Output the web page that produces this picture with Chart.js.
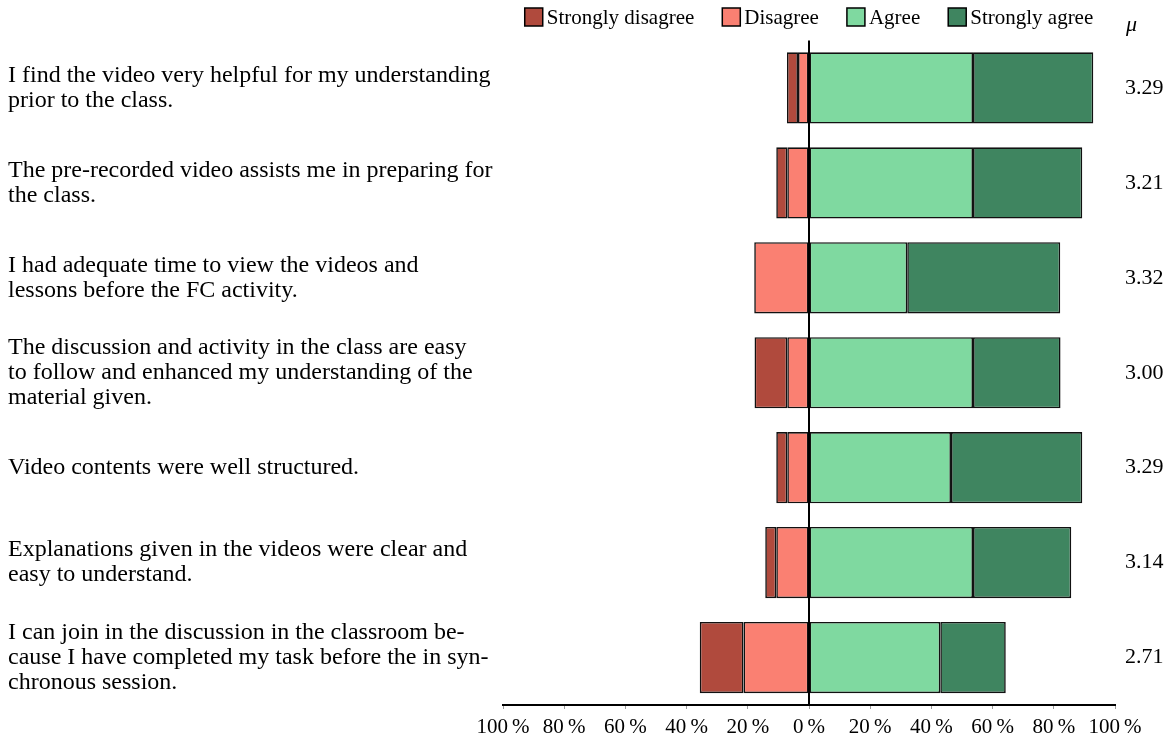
<!DOCTYPE html>
<html>
<head>
<meta charset="utf-8">
<title>Flipped classroom survey</title>
<script src="https://cdn.jsdelivr.net/npm/chart.js@4.4.1/dist/chart.umd.min.js"></script>
<style>
  html, body { margin: 0; padding: 0; background: #fff; }
</style>
</head>
<body>
<canvas id="likert" width="1170" height="740"></canvas>
<script>
// Statements (line breaks kept as in the original figure)
const statements = [
  ["I find the video very helpful for my understanding", "prior to the class."],
  ["The pre-recorded video assists me in preparing for", "the class."],
  ["I had adequate time to view the videos and", "lessons before the FC activity."],
  ["The discussion and activity in the class are easy", "to follow and enhanced my understanding of the", "material given."],
  ["Video contents were well structured."],
  ["Explanations given in the videos were clear and", "easy to understand."],
  ["I can join in the discussion in the classroom be-", "cause I have completed my task before the in syn-", "chronous session."],
];

const responseLabels = ["Strongly disagree", "Disagree", "Agree", "Strongly agree"];

// Share of answers per statement, in %
const stronglyDisagree = [3.6, 3.6, 0, 10.7, 3.6, 3.6, 14.3];
const disagree = [3.6, 7.1, 17.9, 7.1, 7.1, 10.7, 21.4];
const agree = [53.6, 53.6, 32.1, 53.6, 46.4, 53.6, 42.9];
const stronglyAgree = [39.3, 35.7, 50.0, 28.6, 42.9, 32.1, 21.4];

// Mean score per statement (right column)
const means = ["3.29", "3.21", "3.32", "3.00", "3.29", "3.14", "2.71"];

// Axis ticks
const tickMin = -100;
const tickMax = 100;
const tickStep = 20;

const colors = ["#B04A3D", "#FA8072", "#7FD9A0", "#3F8560"];
const serif = "'Liberation Serif', 'DejaVu Serif', serif";

// Disagree answers go to the left of zero
const negative = (arr) => arr.map((v) => -v);

// order: "Disagree" is stacked first so it sits next to the zero line
const datasets = [
  { label: responseLabels[0], data: negative(stronglyDisagree), order: 1 },
  { label: responseLabels[1], data: negative(disagree), order: 0 },
  { label: responseLabels[2], data: agree, order: 2 },
  { label: responseLabels[3], data: stronglyAgree, order: 3 },
].map(function (ds, i) {
  return Object.assign(ds, {
    backgroundColor: colors[i],
    borderColor: "#111",
    borderWidth: 1.6,
    borderSkipped: false,
    barPercentage: 0.75,
    categoryPercentage: 1.0,
  });
});

// Zero line, legend and the mu header
const extras = {
  id: "extras",
  afterDatasetsDraw(chart) {
    const { ctx, chartArea, scales } = chart;
    const x0 = scales.x.getPixelForValue(0);
    ctx.save();
    ctx.strokeStyle = "#000";
    ctx.lineWidth = 2;
    ctx.beginPath();
    ctx.moveTo(x0, chartArea.top);
    ctx.lineTo(x0, chartArea.bottom);
    ctx.stroke();
    ctx.restore();
  },
  afterDraw(chart) {
    const { ctx, chartArea } = chart;
    const box = 18;
    const gapText = 4;
    const gapItem = 28;
    const y = 17;
    ctx.save();
    ctx.font = "21px " + serif;
    ctx.textBaseline = "middle";
    const widths = responseLabels.map((t) => ctx.measureText(t).width);
    let total = 0;
    widths.forEach(function (w, i) {
      total += box + gapText + w + (i < widths.length - 1 ? gapItem : 0);
    });
    let x = (chartArea.left + chartArea.right) / 2 - total / 2;
    responseLabels.forEach(function (t, i) {
      ctx.fillStyle = colors[i];
      ctx.fillRect(x, y - box / 2, box, box);
      ctx.strokeStyle = "#000";
      ctx.lineWidth = 1.5;
      ctx.strokeRect(x, y - box / 2, box, box);
      ctx.fillStyle = "#000";
      ctx.fillText(t, x + box + gapText, y + 1);
      x += box + gapText + widths[i] + gapItem;
    });

    ctx.font = "italic 22px " + serif;
    ctx.fillText("\u03bc", chartArea.right + 11, 25);
    ctx.restore();
  },
};

const ctx = document.getElementById("likert").getContext("2d");
new Chart(ctx, {
  type: "bar",
  data: { labels: statements, datasets: datasets },
  options: {
    indexAxis: "y",
    responsive: false,
    animation: false,
    layout: { padding: { left: 8, top: 40, right: 0, bottom: 0 } },
    plugins: {
      legend: { display: false },
      tooltip: { enabled: false },
    },
    scales: {
      x: {
        stacked: true,
        min: tickMin,
        max: tickMax,
        grid: { drawOnChartArea: false, drawTicks: true, tickLength: 4, color: "#999" },
        border: { display: true, color: "#000", width: 2 },
        ticks: {
          stepSize: tickStep,
          autoSkip: false,
          maxRotation: 0,
          padding: 6,
          color: "#000",
          font: { family: serif, size: 21 },
          callback: (v) => Math.abs(v) + "\u2009%",
        },
        afterFit: (s) => { s.height = 35; },
      },
      y: {
        stacked: true,
        grid: { display: false },
        border: { display: false },
        ticks: {
          crossAlign: "far",
          color: "#000",
          font: { family: serif, size: 24, lineHeight: "25px" },
        },
        afterFit: (s) => { s.width = 495; },
      },
      y2: {
        type: "category",
        labels: means,
        position: "right",
        offset: true,
        grid: { display: false },
        border: { display: false },
        ticks: {
          padding: 2,
          color: "#000",
          font: { family: serif, size: 22 },
        },
        afterFit: (s) => { s.width = 55; },
      },
    },
  },
  plugins: [extras],
});
</script>
</body>
</html>
